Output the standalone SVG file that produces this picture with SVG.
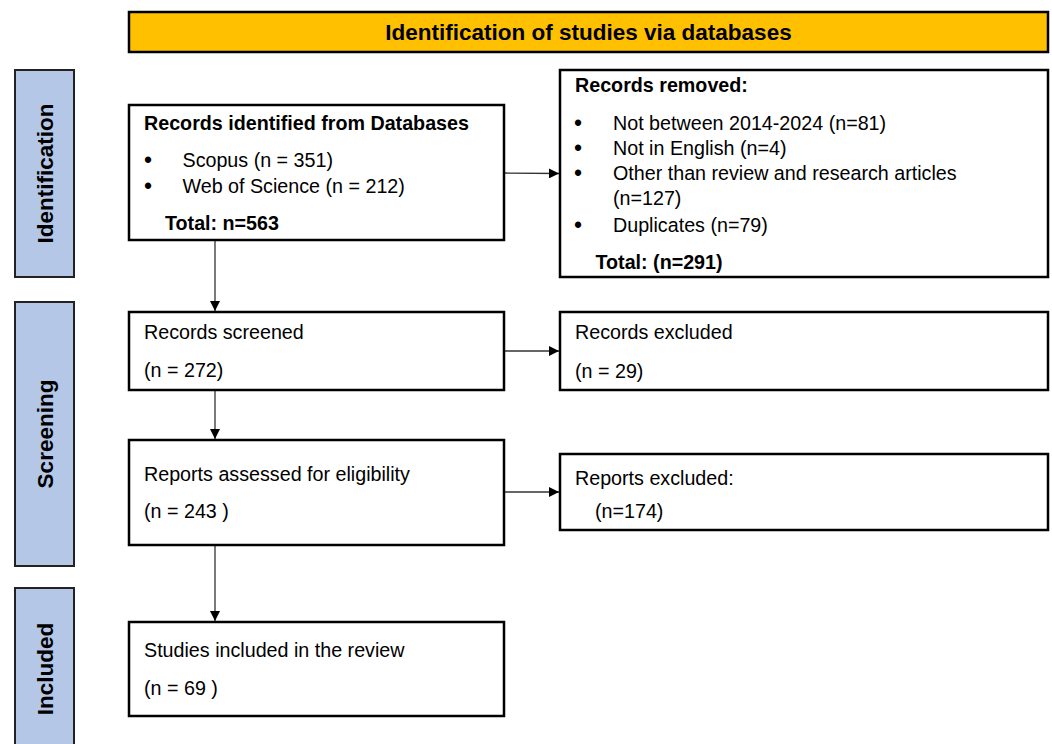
<svg xmlns="http://www.w3.org/2000/svg" width="1052" height="744" viewBox="0 0 1052 744">
<style>
.box{fill:#fff;stroke:#000;stroke-width:2.5}
.side{fill:#B4C7E7;stroke:#222;stroke-width:2}
.banner{fill:#FFC000;stroke:#000;stroke-width:2.5}
.t{font-family:"Liberation Sans",Arial,sans-serif;font-size:19.7px;fill:#000}
.bl{font-family:"Liberation Sans",Arial,sans-serif;font-size:23px;fill:#000}
.b{font-weight:bold}
.h{font-family:"Liberation Sans",Arial,sans-serif;font-size:22.5px;font-weight:bold;fill:#000}
.c{stroke:#333;stroke-width:1.3;fill:none}
</style>
<defs>
<marker id="arr" viewBox="0 0 10 10" refX="10" refY="5" markerWidth="10" markerHeight="10" markerUnits="userSpaceOnUse" orient="auto">
<path d="M0,0 L10,5 L0,10 z" fill="#000"/>
</marker>
</defs>
<rect width="1052" height="744" fill="#fff"/>
<g id="banner">
<rect class="banner" x="129" y="12" width="919" height="40"/>
<text class="h" x="588.5" y="40" text-anchor="middle">Identification of studies via databases</text>
</g>
<g id="side-identification">
<rect class="side" x="15" y="70" width="59" height="207"/>
<text class="h" transform="translate(53,173.5) rotate(-90)" text-anchor="middle">Identification</text>
</g>
<g id="side-screening">
<rect class="side" x="15" y="302" width="59" height="264"/>
<text class="h" transform="translate(53,434) rotate(-90)" text-anchor="middle">Screening</text>
</g>
<g id="side-included">
<rect class="side" x="15" y="588" width="59" height="170"/>
<text class="h" transform="translate(53,669) rotate(-90)" text-anchor="middle">Included</text>
</g>
<g id="connectors">
<line class="c" x1="215" y1="240" x2="215" y2="311" marker-end="url(#arr)"/>
<line class="c" x1="504" y1="173" x2="559" y2="173.5" marker-end="url(#arr)"/>
<line class="c" x1="504" y1="351" x2="559" y2="351" marker-end="url(#arr)"/>
<line class="c" x1="215" y1="390" x2="215" y2="439" marker-end="url(#arr)"/>
<line class="c" x1="504" y1="492" x2="559" y2="492" marker-end="url(#arr)"/>
<line class="c" x1="215" y1="545" x2="215" y2="621" marker-end="url(#arr)"/>
</g>
<g id="records-identified">
<rect class="box" x="129" y="105" width="375" height="135"/>
<text class="t b" x="144" y="130">Records identified from Databases</text>
<text class="bl" x="144" y="167.5">•</text>
<text class="t" x="182.5" y="166.5">Scopus (n = 351)</text>
<text class="bl" x="144" y="193.5">•</text>
<text class="t" x="182.5" y="192.5">Web of Science (n = 212)</text>
<text class="t b" x="165" y="230">Total: n=563</text>
</g>
<g id="records-removed">
<rect class="box" x="560" y="70" width="488" height="207"/>
<text class="t b" x="575" y="92">Records removed:</text>
<text class="bl" x="574" y="131">•</text>
<text class="t" x="613" y="130">Not between 2014-2024 (n=81)</text>
<text class="bl" x="574" y="156">•</text>
<text class="t" x="613" y="155">Not in English (n=4)</text>
<text class="bl" x="574" y="181">•</text>
<text class="t" x="613" y="180">Other than review and research articles</text>
<text class="t" x="613" y="205">(n=127)</text>
<text class="bl" x="574" y="233">•</text>
<text class="t" x="613" y="232">Duplicates (n=79)</text>
<text class="t b" x="595.5" y="269">Total: (n=291)</text>
</g>
<g id="records-screened">
<rect class="box" x="129" y="312" width="375" height="78"/>
<text class="t" x="144" y="339">Records screened</text>
<text class="t" x="144" y="377">(n = 272)</text>
</g>
<g id="records-excluded">
<rect class="box" x="560" y="312" width="488" height="78"/>
<text class="t" x="575" y="339">Records excluded</text>
<text class="t" x="575" y="378">(n = 29)</text>
</g>
<g id="reports-assessed">
<rect class="box" x="129" y="440" width="375" height="105"/>
<text class="t" x="144" y="481">Reports assessed for eligibility</text>
<text class="t" x="144" y="518">(n = 243 )</text>
</g>
<g id="reports-excluded">
<rect class="box" x="560" y="454" width="488" height="76"/>
<text class="t" x="575" y="485">Reports excluded:</text>
<text class="t" x="595" y="518">(n=174)</text>
</g>
<g id="studies-included">
<rect class="box" x="129" y="622" width="375" height="94"/>
<text class="t" x="144" y="657">Studies included in the review</text>
<text class="t" x="144" y="695">(n = 69 )</text>
</g>
</svg>
